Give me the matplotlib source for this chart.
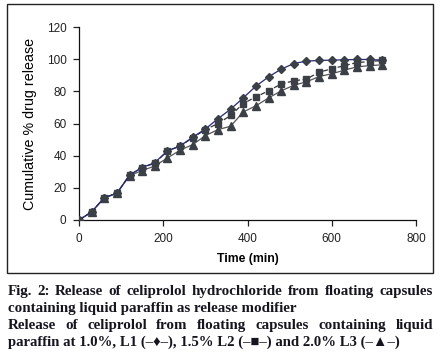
import numpy as np
import matplotlib
matplotlib.use("Agg")
import matplotlib.pyplot as plt
from matplotlib.patches import Rectangle

# release data, sampled every 30 min
time_min = [0, 30, 60, 90, 120, 150, 180, 210, 240, 270, 300, 330, 360,
            390, 420, 450, 480, 510, 540, 570, 600, 630, 660, 690, 720]
l1 = [0, 5, 13.9, 16.6, 28, 32.6, 35.7, 43, 46, 51.5, 56.6, 63, 68.9,
      76, 83.2, 89, 93.8, 97.3, 98.8, 99.2, 99.4, 99.6, 99.8, 99.8, 99.4]
l2 = [0, 5, 13.9, 16.6, 28, 32.6, 35.3, 43, 45.9, 51.2, 56.2, 60, 65,
      72.4, 76.6, 80.3, 84.6, 86.5, 87.6, 91.9, 94, 96, 97.9, 98.5, 99.2]
l3 = [0, 5, 13.9, 16.6, 27.6, 30.7, 33.6, 38.6, 43.4, 46.9, 52.5, 56.2, 58.3,
      67.2, 71, 75.9, 80.3, 83.8, 85.9, 89.2, 90.9, 93.2, 95.2, 96, 96.5]

x_ticks = [0, 200, 400, 600, 800]
y_ticks = [0, 20, 40, 60, 80, 100, 120]

caption = [
    ("Fig. 2: Release of celiprolol hydrochloride from floating capsules", True),
    ("containing liquid paraffin as release modifier", False),
    ("Release of celiprolol from floating capsules containing liquid", True),
    ("paraffin at 1.0%, L1 (\u2013\u2666\u2013), 1.5% L2 (\u2013\u25a0\u2013) and 2.0% L3 (\u2013\u25b2\u2013)", False),
]

W, H = 444, 357
fig = plt.figure(figsize=(W / 100, H / 100), dpi=100)
plt.rcParams['font.family'] = ['Liberation Sans', 'DejaVu Sans']

# box around the chart
fig.patches.append(Rectangle((7 / W, 1 - 273 / H), 426 / W, 269 / H,
                             transform=fig.transFigure, fill=False,
                             edgecolor='#222222', linewidth=1.0))

ax = fig.add_axes([79 / W, 1 - 220 / H, (416 - 79) / W, (220 - 27) / H])
mk = '#3a4045'
ax.plot(time_min, l1, '-', color='#262680', lw=0.9, marker='D', ms=3.8,
        mfc=mk, mec=mk, zorder=3)
ax.plot(time_min, l2, '--', color='#333333', lw=0.9, dashes=(4, 2), marker='s',
        ms=4.4, mfc=mk, mec=mk, zorder=2)
ax.plot(time_min, l3, '-', color='#555555', lw=0.9, marker='^', ms=5.2,
        mfc=mk, mec=mk, zorder=1)

ax.set_xlim(0, 800)
ax.set_ylim(0, 120)
ax.set_xticks(x_ticks)
ax.set_yticks(y_ticks)
ax.spines['top'].set_visible(False)
ax.spines['right'].set_visible(False)
for s in ['left', 'bottom']:
    ax.spines[s].set_linewidth(0.9)
    ax.spines[s].set_color('#111111')
ax.tick_params(direction='out', length=4, width=0.9, labelsize=8.5,
               colors='#222222', pad=5)
ax.set_xlabel('Time (min)', fontsize=8.8, fontweight='bold', labelpad=6)
ax.set_ylabel('Cumulative % drug release', fontsize=10.3, labelpad=7)

# caption, justified lines spread across the box width
fig.canvas.draw()
renderer = fig.canvas.get_renderer()
left_px, right_px = 7.5, 433
baselines = [295, 312, 329, 346]
fam = ['Liberation Serif', 'DejaVu Serif']
fs = 10.0
probe = fig.text(0, 0, caption[1][0], fontsize=fs, fontweight='bold', family=fam)
wpx = probe.get_window_extent(renderer).width
probe.remove()
fs = fs * 291 / wpx

for i, ((line, justify), yb) in enumerate(zip(caption, baselines)):
    yf = 1 - yb / H
    if not justify:
        t = fig.text(left_px / W, yf, line, fontsize=fs, fontweight='bold',
                     family=fam, color='#15151f', va='baseline')
        w = t.get_window_extent(renderer).width
        if i == 3 and w > 392:
            t.set_fontsize(fs * 390 / w)
        continue
    words = line.split(' ')
    objs = [fig.text(0, yf, w, fontsize=fs, fontweight='bold', family=fam,
                     color='#15151f', va='baseline') for w in words]
    widths = [o.get_window_extent(renderer).width for o in objs]
    gap = (right_px - left_px - sum(widths)) / (len(words) - 1)
    x = left_px
    for o, w in zip(objs, widths):
        o.set_x(x / W)
        x += w + gap

fig.savefig('out.png', dpi=100)
